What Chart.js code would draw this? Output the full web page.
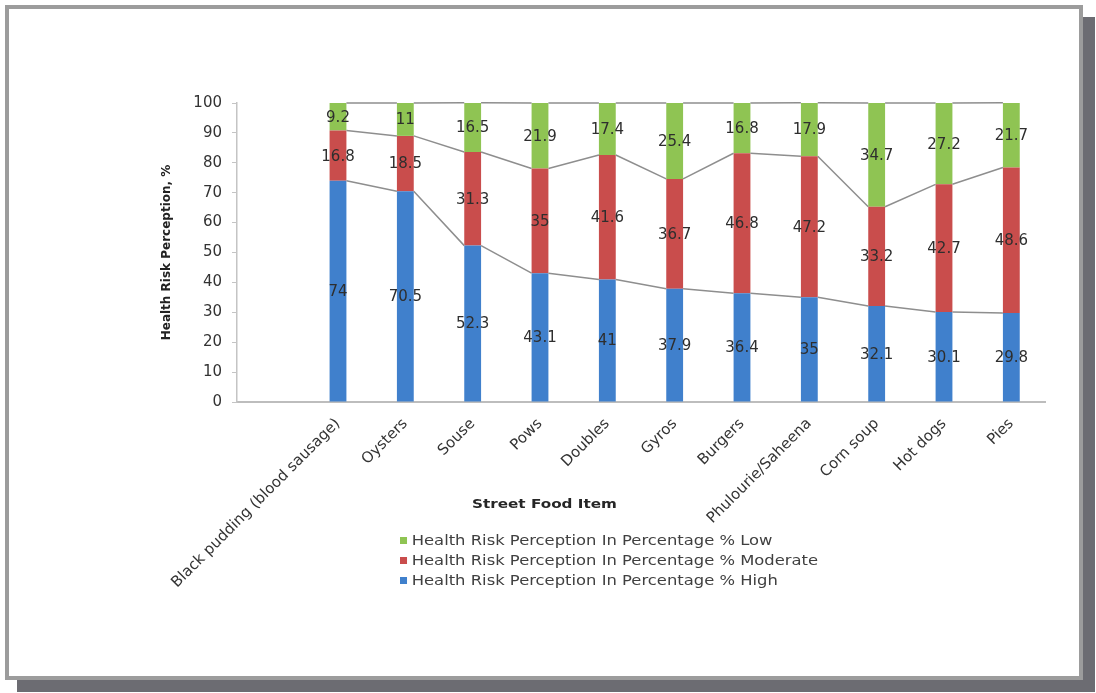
<!DOCTYPE html>
<html>
<head>
<meta charset="utf-8">
<script src="https://cdn.jsdelivr.net/npm/chart.js@4.4.0/dist/chart.umd.min.js"></script>
<style>
  html, body { margin: 0; padding: 0; background: #fff; overflow: hidden; }
  #frame {
    position: absolute; left: 5px; top: 5px; width: 1078px; height: 675px;
    box-sizing: border-box; border: 4px solid #9c9c9c;
    box-shadow: 12px 12px 0 #6c6c72; background: #fff;
  }
  #wrap { position: absolute; left: 0; top: 0; width: 1096px; height: 693px; }
  #xtitle {
    position: absolute; left: 472px; top: 496px;
    font: bold 13px "DejaVu Sans", sans-serif; color: #262626;
    transform: scaleX(1.17); transform-origin: left center;
  }
  #legend {
    position: absolute; left: 400px; top: 530px;
    font: 14px "DejaVu Sans", sans-serif; color: #404040;
    transform: scaleX(1.17); transform-origin: left center;
  }
  #legend div { height: 20px; line-height: 20px; white-space: nowrap; }
  #legend span {
    display: inline-block; width: 6px; height: 7px; margin-right: 4px;
    vertical-align: middle; position: relative; top: -1px;
  }
</style>
</head>
<body>
<div id="frame"></div>
<div id="wrap"><canvas id="chart" width="1096" height="693"></canvas></div>
<div id="xtitle">Street Food Item</div>
<div id="legend"></div>
<script>
// first category is left empty, as in the original sheet
const foods = ['', 'Black pudding (blood sausage)', 'Oysters', 'Souse', 'Pows', 'Doubles', 'Gyros',
  'Burgers', 'Phulourie/Saheena', 'Corn soup', 'Hot dogs', 'Pies'];
const high = [null, 74, 70.5, 52.3, 43.1, 41, 37.9, 36.4, 35, 32.1, 30.1, 29.8];
const moderate = [null, 16.8, 18.5, 31.3, 35, 41.6, 36.7, 46.8, 47.2, 33.2, 42.7, 48.6];
const low = [null, 9.2, 11, 16.5, 21.9, 17.4, 25.4, 16.8, 17.9, 34.7, 27.2, 21.7];
const yTicks = [0, 10, 20, 30, 40, 50, 60, 70, 80, 90, 100];

const FONT = '"DejaVu Sans", sans-serif';

// Excel style "series lines" between the stacked bars
const seriesLines = {
    id: 'seriesLines',
    afterDatasetsDraw(chart) {
        const ctx = chart.ctx;
        ctx.save();
        ctx.strokeStyle = '#8e8e8e';
        ctx.lineWidth = 1.5;
        chart.data.datasets.forEach((ds, d) => {
            const bars = chart.getDatasetMeta(d).data;
            ctx.beginPath();
            for (let i = 1; i < bars.length - 1; i++) {
                const a = bars[i], b = bars[i + 1];
                ctx.moveTo(a.x + a.width / 2, a.y);
                ctx.lineTo(b.x - b.width / 2, b.y);
            }
            ctx.stroke();
        });
        ctx.restore();
    }
};

// value labels in the middle of each segment
const segLabels = {
    id: 'segLabels',
    afterDatasetsDraw(chart) {
        const ctx = chart.ctx;
        ctx.save();
        ctx.font = '15px ' + FONT;
        ctx.fillStyle = '#2e2e2e';
        ctx.textAlign = 'center';
        ctx.textBaseline = 'middle';
        chart.data.datasets.forEach((ds, d) => {
            chart.getDatasetMeta(d).data.forEach((bar, i) => {
                const v = ds.data[i];
                if (v == null) return;
                const p = bar.getCenterPoint();
                ctx.fillText(String(v), p.x, p.y + 1);
            });
        });
        ctx.restore();
    }
};

const riskChart = new Chart(document.getElementById('chart').getContext('2d'), {
    type: 'bar',
    data: {
        labels: foods,
        datasets: [{
            label: 'Health Risk Perception In Percentage % High',
            data: high,
            backgroundColor: '#4080cc'
        }, {
            label: 'Health Risk Perception In Percentage % Moderate',
            data: moderate,
            backgroundColor: '#c94d4c'
        }, {
            label: 'Health Risk Perception In Percentage % Low',
            data: low,
            backgroundColor: '#8fc453'
        }]
    },
    options: {
        responsive: false,
        animation: false,
        layout: { padding: { left: 160, right: 51, top: 103, bottom: 101 } },
        datasets: { bar: { categoryPercentage: 1, barPercentage: 0.25 } },
        scales: {
            x: {
                stacked: true,
                grid: { display: false },
                border: { display: true, color: '#bdbdbd', width: 2 },
                ticks: {
                    autoSkip: false, minRotation: 45, maxRotation: 45, padding: 5,
                    color: '#333', font: { family: FONT, size: 15 }
                },
                afterFit(scale) { scale.height = 190; }
            },
            y: {
                stacked: true,
                min: 0, max: 100,
                afterBuildTicks(scale) { scale.ticks = yTicks.map(v => ({ value: v })); },
                grid: { drawOnChartArea: false, drawTicks: true, tickLength: 5, color: '#c4c4c4' },
                border: { display: true, color: '#c4c4c4', width: 1.5 },
                ticks: { padding: 10, color: '#333', font: { family: FONT, size: 15 } },
                title: {
                    display: true, text: 'Health Risk Perception, %', color: '#222',
                    font: { family: FONT, size: 12, weight: 'bold' }, padding: 0
                },
                afterFit(scale) { scale.width = 77; }
            }
        },
        plugins: {
            legend: { display: false },
            tooltip: { enabled: false }
        }
    },
    plugins: [seriesLines, segLabels]
});

// legend, top to bottom as in the original: Low, Moderate, High
const legendBox = document.getElementById('legend');
riskChart.data.datasets.slice().reverse().forEach(ds => {
    const row = document.createElement('div');
    const sw = document.createElement('span');
    sw.style.background = ds.backgroundColor;
    row.appendChild(sw);
    row.appendChild(document.createTextNode(ds.label));
    legendBox.appendChild(row);
});
</script>
</body>
</html>
